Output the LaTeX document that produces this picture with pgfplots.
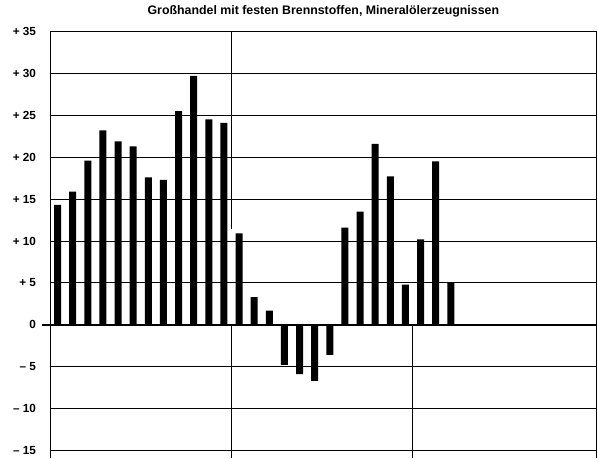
\documentclass[border=0pt]{standalone}
\usepackage{fontspec}
\setmainfont{Liberation Sans}
\newfontfamily\heavyfont{Liberation Sans}[FakeBold=1.5]
\usepackage{pgfplots}
\pgfplotsset{compat=1.18}
\begin{document}
\begin{tikzpicture}
\begin{axis}[
 scale only axis, width=545.3bp, height=426.5bp,
 xmin=0.55, xmax=36.6, ymin=-15.9, ymax=35,
 axis line style={draw=none},
 xtick=\empty,
 ytick={-15,-10,-5,0,5,10,15,20,25,30,35},
 yticklabels={– 15,– 10,– 5,0,+ 5,+ 10,+ 15,+ 20,+ 25,+ 30,+ 35},
 yticklabel style={font=\fontsize{11.8}{12}\selectfont\bfseries, anchor=east, inner sep=0pt, xshift=-14.5bp},
 major tick length=0pt,
 ymajorgrids, grid style={black, line width=0.9bp},
 clip=false,
 ybar, bar width=7bp,
 title={Großhandel mit festen Brennstoffen, Mineralölerzeugnissen},
 title style={font=\fontsize{12.4}{13}\selectfont\bfseries, at={(0.5,1)}, anchor=base, inner sep=0pt, yshift=11.5bp},
]
\addplot[fill=black, draw=none] coordinates {
(1,14.3) (2,15.9) (3,19.6) (4,23.2) (5,21.9) (6,21.3) (7,17.6) (8,17.3) (9,25.5) (10,29.7) (11,24.5) (12,24.1)
(13,10.9) (14,3.3) (15,1.7) (16,-4.8) (17,-5.9) (18,-6.7) (19,-3.6) (20,11.6) (21,13.5) (22,21.6) (23,17.7) (24,4.8)
(25,10.2) (26,19.5) (27,5.0)
};
\draw[line width=1bp] (axis cs:0.55,-15.9) -- (axis cs:0.55,35) -- (axis cs:36.6,35) -- (axis cs:36.6,-15.9);
\draw[line width=1bp] (axis cs:12.5,11.4) -- (axis cs:12.5,35);
\draw[line width=1bp] (axis cs:12.5,-15.9) -- (axis cs:12.5,0);
\draw[line width=1bp] (axis cs:24.5,-15.9) -- (axis cs:24.5,0);
\draw[line width=2bp] ([xshift=-8.5bp]axis cs:0.55,0) -- (axis cs:36.6,0);
\coordinate (ll) at (axis cs:0.55,-15.9);
\coordinate (ur) at (axis cs:36.6,35);
\end{axis}
\path ([xshift=-50.7bp]ll) rectangle ([xshift=2bp,yshift=31.5bp]ur);
\end{tikzpicture}
\end{document}
